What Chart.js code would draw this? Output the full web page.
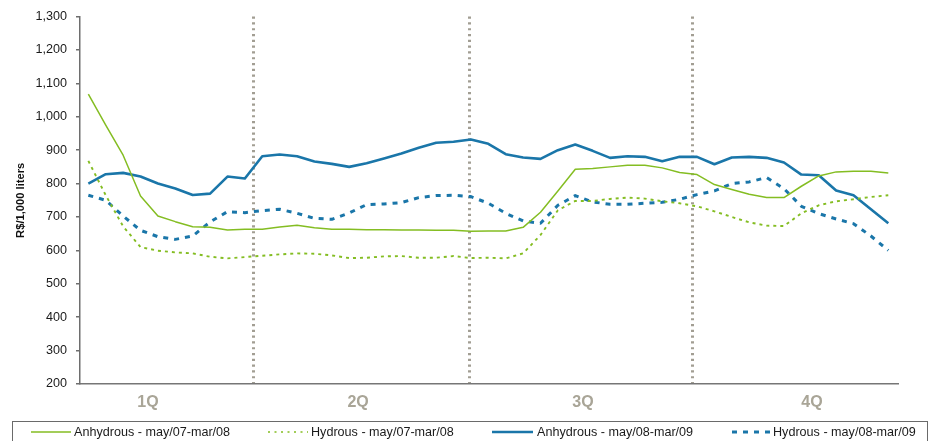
<!DOCTYPE html>
<html>
<head>
<meta charset="utf-8">
<script src="https://cdn.jsdelivr.net/npm/chart.js@4"></script>
<style>
  html, body { margin: 0; padding: 0; background: #fff; }
  #wrap { position: relative; width: 928px; height: 441px; overflow: hidden;
          font-family: "Liberation Sans", Arial, sans-serif; }
  #chart { position: absolute; left: 0; top: 0; }
  #legendBox { position: absolute; left: 12px; top: 421px; width: 916px; height: 40px;
               border: 1.5px solid #6a6a6a; box-sizing: border-box; }
  .lg-line { position: absolute; top: 429px; }
  .lg-text { position: absolute; top: 424px; font-size: 12.6px; line-height: 16px; color: #1a1a1a; white-space: nowrap; }
</style>
</head>
<body>
<div id="wrap">
  <canvas id="chart" width="928" height="441"></canvas>
  <div id="legendBox"></div>
  <svg class="lg-line" style="left:31px" width="40" height="6"><line x1="0" y1="3" x2="40" y2="3" stroke="#84bd22" stroke-width="1.5"/></svg>
  <div class="lg-text" style="left:74px">Anhydrous - may/07-mar/08</div>
  <svg class="lg-line" style="left:268px" width="40" height="6"><line x1="0" y1="3" x2="40" y2="3" stroke="#84bd22" stroke-width="1.6" stroke-dasharray="2 4.5"/></svg>
  <div class="lg-text" style="left:311px">Hydrous - may/07-mar/08</div>
  <svg class="lg-line" style="left:492px" width="41" height="6"><line x1="0" y1="3" x2="41" y2="3" stroke="#1a76a9" stroke-width="2.5"/></svg>
  <div class="lg-text" style="left:537px">Anhydrous - may/08-mar/09</div>
  <svg class="lg-line" style="left:732px" width="40" height="6"><line x1="0" y1="3" x2="40" y2="3" stroke="#1a76a9" stroke-width="3" stroke-dasharray="5 6"/></svg>
  <div class="lg-text" style="left:773px">Hydrous - may/08-mar/09</div>
</div>
<script>
// Weekly price observations, harvest weeks 1..47
const weeks = [1,2,3,4,5,6,7,8,9,10,11,12,13,14,15,16,17,18,19,20,21,22,23,24,25,26,27,28,29,30,31,32,33,34,35,36,37,38,39,40,41,42,43,44,45,46,47];

const anhydrous0708 = [1068,975,885,763,703,686,671,669,661,663,663,670,675,668,663,663,662,662,661,661,660,660,657,658,658,669,714,778,843,845,850,855,855,847,833,827,797,782,768,758,758,792,823,835,837,837,832];
const hydrous0708   = [868,765,672,610,599,594,591,581,576,580,584,588,591,590,585,577,578,582,583,578,578,583,577,578,576,591,646,720,748,748,754,758,755,747,741,732,717,700,684,674,673,711,735,747,753,760,765];
const anhydrous0809 = [800,828,832,821,800,785,766,770,821,815,882,887,882,866,859,850,861,875,890,907,922,925,932,919,888,878,874,900,917,898,877,882,880,867,880,880,858,878,880,877,863,827,825,779,765,723,681];
const hydrous0809   = [765,750,703,660,641,633,643,685,716,713,719,723,711,696,693,712,737,739,743,758,764,765,761,741,711,688,681,735,764,745,738,738,741,744,753,767,778,800,805,818,785,732,710,694,680,643,600];

const seriesNames = ['Anhydrous - may/07-mar/08', 'Hydrous - may/07-mar/08',
                     'Anhydrous - may/08-mar/09', 'Hydrous - may/08-mar/09'];

// Quarter labels along the bottom and the week positions that split the quarters
const quarterLabels  = ['1Q', '2Q', '3Q', '4Q'];
const quarterCentres = [4.43, 16.51, 29.44, 42.61];
const quarterBounds  = [10.47, 22.92, 35.73];

const GREEN = '#84bd22';
const BLUE = '#1a76a9';
const FONT = "'Liberation Sans', Arial, sans-serif";

Chart.defaults.font.family = FONT;

new Chart(document.getElementById('chart'), {
  type: 'line',
  data: {
    labels: weeks,
    datasets: [
      { label: seriesNames[0], data: anhydrous0708, borderColor: GREEN, borderWidth: 1.5 },
      { label: seriesNames[1], data: hydrous0708, borderColor: GREEN, borderWidth: 1.9, borderDash: [3, 4] },
      { label: seriesNames[2], data: anhydrous0809, borderColor: BLUE, borderWidth: 2.6 },
      { label: seriesNames[3], data: hydrous0809, borderColor: BLUE, borderWidth: 3, borderDash: [5, 6] }
    ]
  },
  options: {
    responsive: false,
    animation: false,
    events: [],
    layout: { padding: { left: 0, top: 16, right: 31, bottom: 23 } },
    elements: {
      point: { radius: 0 },
      line: { tension: 0, fill: false, borderCapStyle: 'butt', borderJoinStyle: 'round' }
    },
    plugins: { legend: { display: false }, tooltip: { enabled: false } },
    scales: {
      x: {
        type: 'linear',
        min: 0.52,
        max: 47.5,
        afterBuildTicks(scale) {
          scale.ticks = quarterCentres.concat(quarterBounds)
            .sort((a, b) => a - b)
            .map(v => ({ value: v }));
        },
        ticks: {
          autoSkip: false,
          maxRotation: 0,
          padding: 9,
          color: '#a9a597',
          font: { size: 16, weight: 'bold' },
          callback(value) {
            const i = quarterCentres.indexOf(value);
            return i >= 0 ? quarterLabels[i] : '';
          }
        },
        grid: {
          drawTicks: false,
          lineWidth: 3,
          color: ctx => (ctx.tick && quarterBounds.includes(ctx.tick.value)) ? '#a29e93' : 'rgba(0,0,0,0)'
        },
        border: { display: true, color: '#767676', width: 1.5, dash: [2.2, 3.6] },
        afterFit(scale) { scale.height = 34; }
      },
      y: {
        min: 200,
        max: 1300,
        ticks: {
          stepSize: 100,
          padding: 9,
          color: '#1a1a1a',
          font: { size: 12.6 },
          callback: v => Number(v).toLocaleString('en-US')
        },
        grid: { drawOnChartArea: false, drawTicks: true, tickLength: 4, color: '#6e6e6e', lineWidth: 1.5 },
        border: { color: '#6e6e6e', width: 1.5 },
        title: {
          display: true,
          text: 'R$/1,000 liters',
          color: '#111',
          font: { size: 11.2, weight: 'bold' },
          padding: { top: 14, bottom: 0 }
        },
        afterFit(scale) { scale.width = 80; }
      }
    }
  }
});
</script>
</body>
</html>
